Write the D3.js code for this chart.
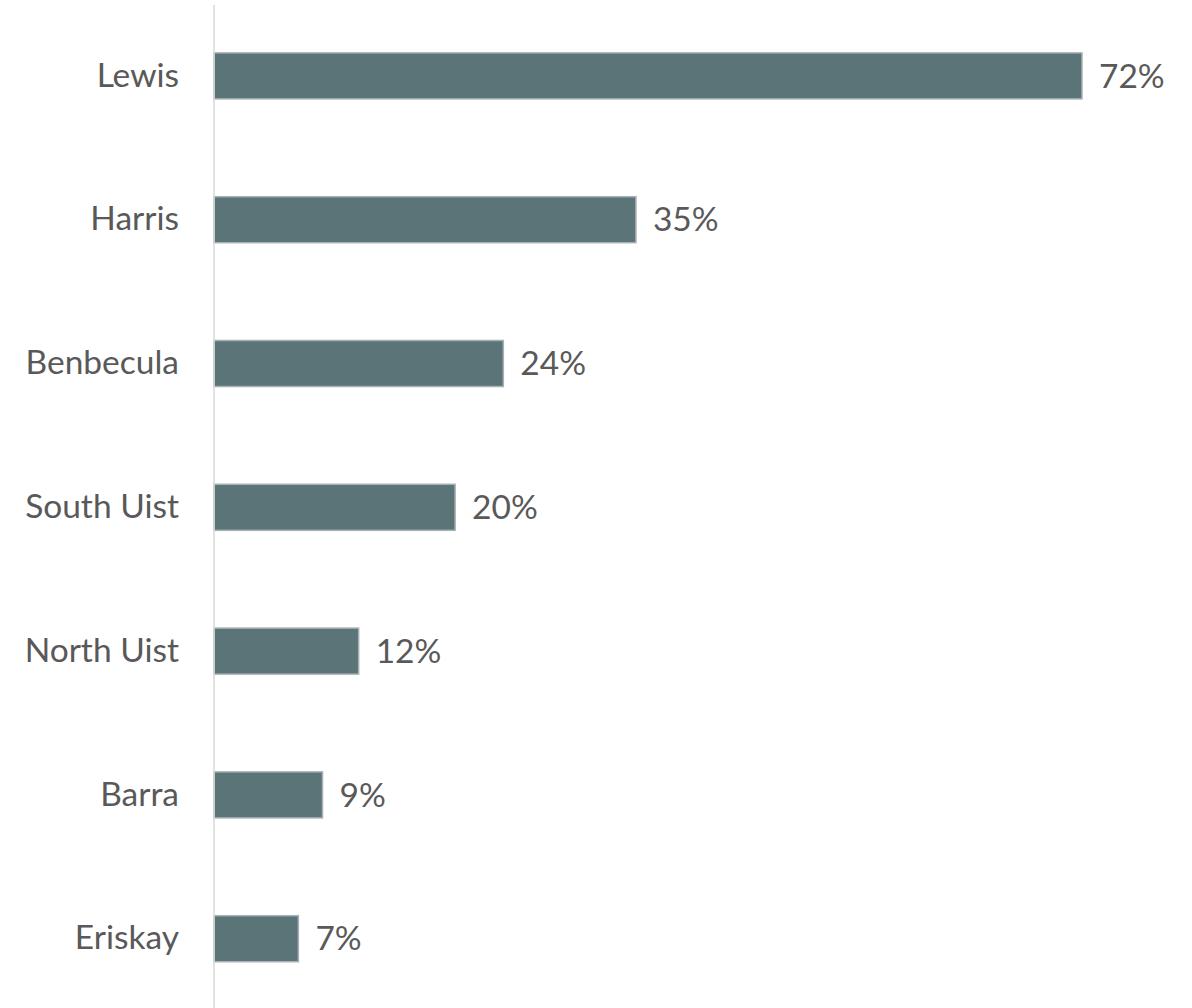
<!DOCTYPE html>
<html>
<head>
<meta charset="utf-8">
<script src="https://cdn.jsdelivr.net/npm/d3@7"></script>
<style>
  body { margin: 0; background: #fff; }
  text { font-family: Lato, "Open Sans", sans-serif; fill: #595959; }
</style>
</head>
<body>
<div id="chart"></div>
<script>
// ==== DATA ====
const ISLANDS = ["Lewis", "Harris", "Benbecula", "South Uist", "North Uist", "Barra", "Eriskay"];
const SHARES = [72, 35, 24, 20, 12, 9, 7];

// ==== SIZE ====
const width = 1192;
const height = 1008;
const axisX = 214;
const FONT_SIZE = 33.5;

const data = ISLANDS.map((name, i) => ({ name, value: SHARES[i] }));

// ==== SCALES ====
const x = d3.scaleLinear().domain([0, 72]).range([axisX, 1082]);
const y = d3.scaleBand()
  .domain(ISLANDS)
  .range([4, 1010.6])
  .paddingInner(0.68)
  .paddingOuter(0.34);

const svg = d3.select("#chart")
  .append("svg")
  .attr("width", width)
  .attr("height", height);

// Bars
svg.append("g")
  .selectAll("rect")
  .data(data)
  .join("rect")
  .attr("x", x(0))
  .attr("y", d => y(d.name))
  .attr("width", d => x(d.value) - x(0))
  .attr("height", y.bandwidth())
  .attr("fill", "#5b7478")
  .attr("stroke", "#a9b0b5")
  .attr("stroke-width", 1.5);

// Category labels (axis without domain/ticks)
const gy = svg.append("g")
  .attr("transform", `translate(${axisX},0)`)
  .call(d3.axisLeft(y).tickSize(0).tickPadding(35));
gy.select(".domain").remove();
gy.selectAll(".tick text")
  .attr("font-size", FONT_SIZE)
  .attr("font-family", "Lato, 'Open Sans', sans-serif")
  .attr("fill", "#595959");

// Vertical axis line
svg.append("line")
  .attr("x1", axisX).attr("x2", axisX)
  .attr("y1", 5).attr("y2", height)
  .attr("stroke", "#d9d9d9")
  .attr("stroke-width", 1.5);

// Value labels
svg.append("g")
  .selectAll("text")
  .data(data)
  .join("text")
  .attr("x", d => x(d.value) + 17)
  .attr("y", d => y(d.name) + y.bandwidth() / 2)
  .attr("dy", "0.35em")
  .attr("font-size", FONT_SIZE)
  .text(d => d.value + "%");
</script>
</body>
</html>
